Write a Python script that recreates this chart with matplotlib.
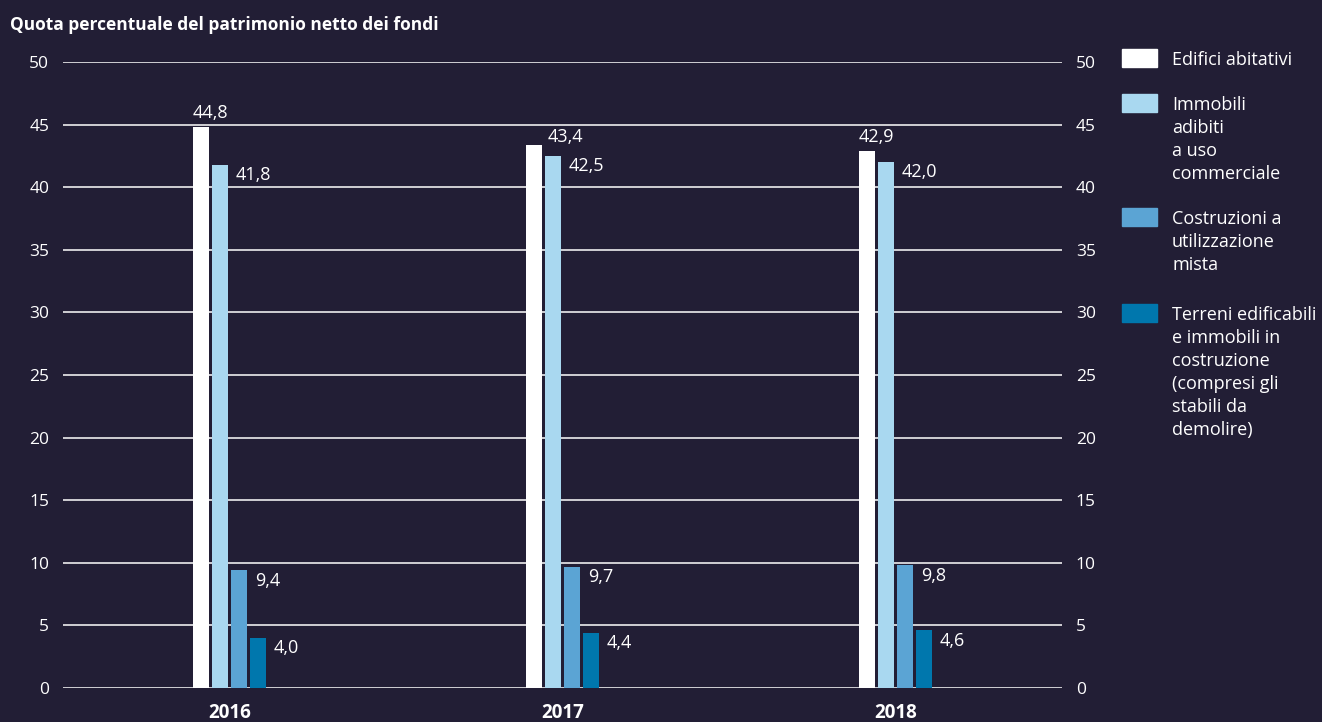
import matplotlib
import matplotlib.pyplot as plt
import numpy as np
from matplotlib.patches import Rectangle

matplotlib.use('agg', force=True)

years = ["2016", "2017", "2018"]
series_names = [
    "Edifici abitativi",
    "Immobili\nadibiti\na uso\ncommerciale",
    "Costruzioni a\nutilizzazione\nmista",
    "Terreni edificabili\ne immobili in\ncostruzione\n(compresi gli\nstabili da\ndemolire)",
]
edifici = [44.8, 43.4, 42.9]
commerciale = [41.8, 42.5, 42.0]
mista = [9.4, 9.7, 9.8]
terreni = [4.0, 4.4, 4.6]

BG = "#221e35"
colors = ["#ffffff", "#a9d8f0", "#5ba4d4", "#0077ad"]

plt.rcParams['font.family'] = ['Open Sans', 'DejaVu Sans']

fig = plt.figure(figsize=(13.22, 7.22), dpi=100, facecolor=BG)
ax = fig.add_axes([0.0477, 0.0471, 0.7556, 0.867])
ax.set_facecolor(BG)

x = np.arange(len(years))
width = 0.048
step = 0.057
offsets = [-1.5 * step, -0.5 * step, 0.5 * step, 1.5 * step]
data = [edifici, commerciale, mista, terreni]

for vals, off, col in zip(data, offsets, colors):
    ax.bar(x + off, vals, width=width, color=col, zorder=3)

def fmt(v):
    return f"{v:.1f}".replace(".", ",")

# value labels; white bars alternate between above and beside
white_above = [True, False, True]
for i, yr in enumerate(years):
    v = edifici[i]
    if white_above[i]:
        ax.text(x[i] + offsets[0] - width / 2, v + 0.4, fmt(v), color="white",
                fontsize=13, ha="left", va="bottom")
    else:
        ax.text(x[i] + offsets[0] + width / 2 + 0.018, v - 0.1, fmt(v),
                color="white", fontsize=13, ha="left", va="bottom")
    for vals, off in zip(data[1:], offsets[1:]):
        v = vals[i]
        ax.text(x[i] + off + width / 2 + 0.024, v - 0.1, fmt(v), color="white",
                fontsize=13, ha="left", va="top")

ax.set_xlim(-0.5, 2.5)
ax.set_ylim(0, 50)
ax.set_yticks(range(0, 51, 5))
ax.set_xticks(x)
ax.set_xticklabels(years, fontweight="bold")
ax.grid(axis="y", color="white", linewidth=1.1, zorder=0)
ax.tick_params(axis="y", length=0, labelsize=12.5, colors="white",
               labelright=True, pad=10)
ax.tick_params(axis="x", length=0, labelsize=13.5, colors="white", pad=11)
for s in ax.spines.values():
    s.set_visible(False)

fig.text(0.0076, 0.966, "Quota percentuale del patrimonio netto dei fondi",
         color="white", fontsize=12.5, fontweight="bold", ha="left", va="center")

# legend drawn by hand
W, H = 1322, 722
handle_tops = [49, 94, 208, 304]
for name, col, top in zip(series_names, colors, handle_tops):
    fig.patches.append(Rectangle((1122 / W, 1 - (top + 18) / H), 35 / W, 18 / H,
                                 transform=fig.transFigure, color=col))
    fig.text(1172 / W, 1 - (top + 2) / H, name, color="white", fontsize=13,
             ha="left", va="top", linespacing=1.35)

fig.savefig("out.png", dpi=100, facecolor=BG)
